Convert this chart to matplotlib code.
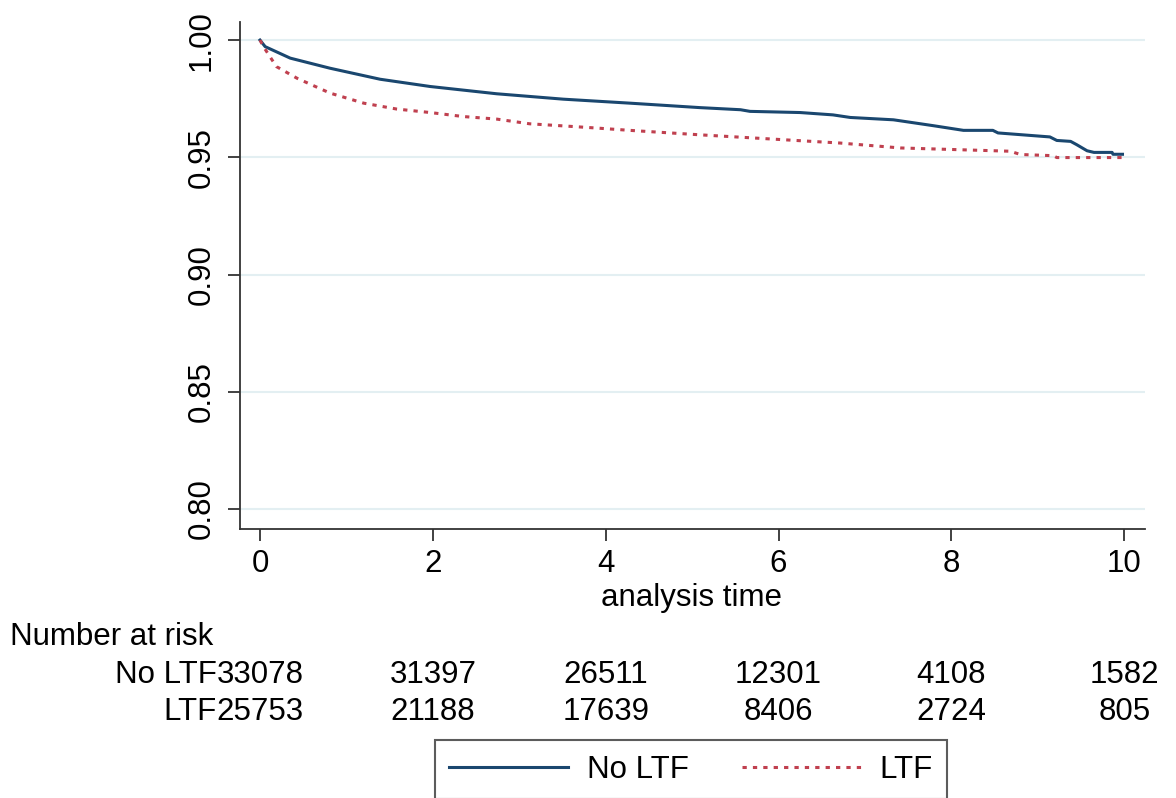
from matplotlib import pyplot as plt
from matplotlib import transforms
import numpy as np

plt.rcParams['font.family'] = ['Liberation Sans', 'DejaVu Sans']
plt.rcParams['font.size'] = 22.5

# survival estimates
t_noltf = [0, 0.06, 0.35, 0.81, 1.39, 1.97, 2.74, 3.51, 4.28, 5.09, 5.56, 5.67, 6.25, 6.63,
           6.83, 7.33, 7.79, 8.14, 8.48, 8.54, 9.14, 9.22, 9.38, 9.45, 9.57, 9.65, 9.86, 9.87, 9.98]
s_noltf = [1.0, 0.9972, 0.9923, 0.9880, 0.9833, 0.9802, 0.9771, 0.9748, 0.9731, 0.9712, 0.9703,
           0.9696, 0.9691, 0.9681, 0.9670, 0.9660, 0.9635, 0.9615, 0.9615, 0.9604, 0.9587, 0.9572,
           0.9568, 0.9554, 0.9528, 0.9521, 0.9521, 0.9513, 0.9513]
t_ltf = [0, 0.04, 0.19, 0.43, 0.81, 1.20, 1.58, 1.97, 2.35, 2.74, 3.12, 3.51, 3.89, 4.28,
         5.09, 6.06, 6.71, 7.41, 8.68, 8.80, 9.18, 9.22, 9.98]
s_ltf = [1.0, 0.9972, 0.9887, 0.9837, 0.9774, 0.9731, 0.9706, 0.9691, 0.9674, 0.9663, 0.9643,
         0.9634, 0.9625, 0.9615, 0.9596, 0.9575, 0.9561, 0.9540, 0.9526, 0.9512, 0.9507,
         0.9499, 0.9499]

risk_times = [0, 2, 4, 6, 8, 10]
risk_noltf = [33078, 31397, 26511, 12301, 4108, 1582]
risk_ltf = [25753, 21188, 17639, 8406, 2724, 805]
group_names = ['No LTF', 'LTF']
y_ticks = [0.80, 0.85, 0.90, 0.95, 1.00]
x_ticks = [0, 2, 4, 6, 8, 10]

blue = '#1a476f'
red = '#c0404f'

fig = plt.figure(figsize=(11.76, 7.98), dpi=100)
ax = fig.add_axes([0.2041, 0.3371, 0.7695, 0.6353])

for yv in y_ticks:
    ax.axhline(yv, color='#e3eff2', lw=1.5, zorder=0)

ax.plot(t_noltf, s_noltf, color=blue, lw=2.2, label=group_names[0])
ax.plot(t_ltf, s_ltf, color=red, lw=2.2, linestyle=(0, (1.4, 2.0)), label=group_names[1])

ax.set_xlim(-0.231, 10.24)
ax.set_ylim(0.7915, 1.0077)
ax.set_xticks(x_ticks)
ax.set_yticks(y_ticks)
ax.set_yticklabels(['%.2f' % v for v in y_ticks], rotation=90, va='center')
ax.tick_params(axis='both', direction='out', length=8.5, width=1.3, colors='#333333',
               labelcolor='black')
ax.tick_params(axis='x', pad=6)
ax.tick_params(axis='y', pad=8)
for side in ['top', 'right']:
    ax.spines[side].set_visible(False)
for side in ['left', 'bottom']:
    ax.spines[side].set_linewidth(1.3)
    ax.spines[side].set_color('#333333')

fig.text(0.5876, 0.2506, 'analysis time', ha='center', va='center')

# number at risk table
fig.text(0.0085, 0.202, 'Number at risk', ha='left', va='center')
trans = transforms.blended_transform_factory(ax.transData, fig.transFigure)
row_y = [0.154, 0.108]
for name, counts, yrow in zip(group_names, [risk_noltf, risk_ltf], row_y):
    first = None
    for tv, n in zip(risk_times, counts):
        txt = ax.text(tv, yrow, str(n), ha='center', va='center', clip_on=False, transform=trans)
        if first is None:
            first = txt
    ax.annotate(name, xy=(0, 0.5), xycoords=first, ha='right', va='center',
                annotation_clip=False)

leg = fig.legend(loc='center', bbox_to_anchor=(0.5876, 1 - 769.5 / 798), ncol=2,
                 frameon=True, fancybox=False, handlelength=3.8, handletextpad=0.6,
                 columnspacing=1.7, borderpad=0.45, borderaxespad=0)
leg.get_frame().set_edgecolor('#333333')
leg.get_frame().set_linewidth(1.5)

fig.savefig('out.png', dpi=100)
